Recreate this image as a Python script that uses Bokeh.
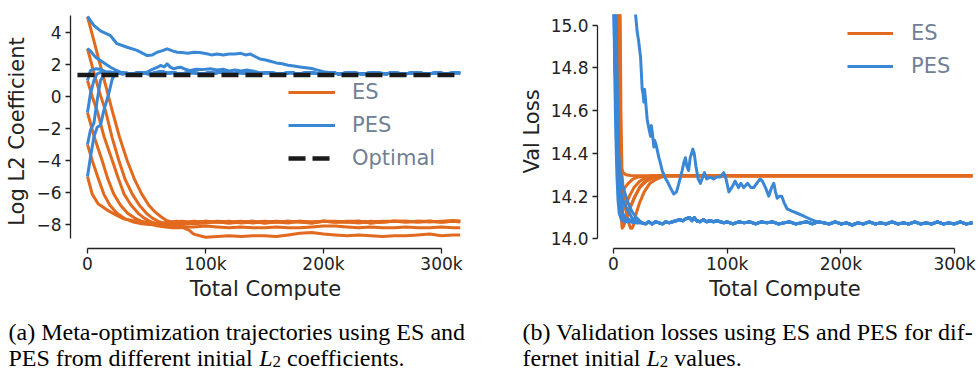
from bokeh.plotting import figure
from bokeh.models import Range1d, FixedTicker, Legend, LegendItem, Label, PrintfTickFormatter
from bokeh.layouts import row, column
from bokeh.embed import file_html
from bokeh.resources import INLINE

# ---------------- data (x in thousands of compute steps) ----------------
# Panel (a): log L2 coefficient trajectories
a_es_tail_x = [90, 100, 110, 120, 130, 140, 150, 160, 170, 180, 190, 200, 210, 220,
               230, 240, 250, 260, 270, 280, 290, 300, 310, 316]
a_es_tail_top1 = [-7.8, -7.85, -7.8, -7.85, -7.8, -7.9, -7.85, -7.8, -7.85, -7.8, -7.85, -7.8,
                  -7.85, -7.8, -7.8, -7.85, -7.8, -7.8, -7.85, -7.8, -7.85, -7.8, -7.75, -7.8]
a_es_tail_top2 = [-7.9, -7.8, -7.85, -7.9, -7.85, -7.8, -7.9, -7.85, -7.8, -7.85, -7.9, -7.8,
                  -7.85, -7.85, -7.8, -7.9, -7.85, -7.8, -7.8, -7.85, -7.8, -7.85, -7.8, -7.8]
a_es_tail_top3 = [-7.95, -7.9, -7.85, -7.8, -7.9, -7.85, -7.8, -7.85, -7.9, -7.8, -7.85, -7.8,
                  -7.8, -7.85, -7.9, -7.8, -7.85, -7.8, -7.85, -7.8, -7.8, -7.85, -7.8, -7.85]
a_es_tail_mid = [-8.15, -8.1, -8.15, -8.2, -8.15, -8.2, -8.2, -8.15, -8.2, -8.2, -8.15, -8.1,
                 -8.1, -8.15, -8.2, -8.15, -8.2, -8.2, -8.15, -8.2, -8.2, -8.15, -8.2, -8.2]
a_es_tail_low = [-8.6, -8.8, -8.75, -8.7, -8.75, -8.7, -8.7, -8.75, -8.65, -8.55, -8.5, -8.6,
                 -8.65, -8.7, -8.65, -8.7, -8.75, -8.7, -8.7, -8.65, -8.6, -8.7, -8.65, -8.65]

a_es_p5_x = [0, 5, 10, 15, 21, 27, 33.6, 40, 46, 52, 57, 62, 67, 72, 78, 85]
a_es_p5_y = [5.0, 3.6, 2.2, 0.8, -0.9, -2.5, -4.0, -5.2, -6.1, -6.8, -7.2, -7.5, -7.75, -7.85, -7.9, -7.85]
a_es_p3_x = [0, 5, 10, 15.3, 21, 26.6, 32, 38, 44, 50, 55, 60, 66, 72, 78, 85]
a_es_p3_y = [3.0, 1.6, 0.3, -0.9, -2.6, -4.0, -5.2, -6.1, -6.8, -7.3, -7.6, -7.8, -7.95, -8.0, -8.05, -7.95]
a_es_p1_x = [0, 4, 8.2, 14, 21, 26, 31, 37, 43, 48, 53, 58, 64, 70, 76, 81, 86]
a_es_p1_y = [1.0, 0.0, -0.9, -2.5, -4.0, -5.1, -6.1, -6.8, -7.3, -7.6, -7.8, -7.95, -8.0, -8.05, -8.1, -8.2, -8.35]
a_es_m1_x = [0, 6, 12.4, 17, 22.3, 28, 34, 40, 47, 54, 60, 66, 72, 78, 85]
a_es_m1_y = [-1.0, -2.6, -4.0, -5.1, -6.1, -6.8, -7.3, -7.6, -7.85, -8.0, -8.1, -8.15, -8.2, -8.2, -8.15]
a_es_m3_x = [0, 4, 9, 13.8, 19, 25, 32, 39, 46, 52, 58, 64, 70, 76, 82, 86]
a_es_m3_y = [-3.0, -4.0, -5.1, -6.1, -6.8, -7.3, -7.65, -7.85, -7.95, -8.0, -7.95, -7.9, -7.85, -7.8, -7.85, -7.9]
a_es_m5_x = [0, 4, 9, 16.7, 24, 30.8, 38, 44, 50, 56, 62, 68, 74, 80, 86]
a_es_m5_y = [-5.0, -6.1, -6.7, -7.1, -7.4, -7.65, -7.75, -7.8, -7.85, -7.9, -7.95, -7.9, -7.85, -7.8, -7.85]

a_pes_tail_x = [33, 38, 43, 48, 53, 58, 63, 68, 73, 78, 83, 88, 93, 98, 103, 108, 113, 118, 123,
                128, 133, 138, 143, 148, 153, 158, 163, 168, 173, 178, 183, 188, 193, 198, 203,
                208, 213, 218, 223, 228, 233, 238, 243, 248, 253, 258, 263, 268, 273, 278, 283,
                288, 293, 298, 303, 308, 313, 316]
a_pes_tail_y = [1.45, 1.4, 1.5, 1.45, 1.4, 1.5, 1.55, 1.45, 1.5, 1.4,
                1.45, 1.5, 1.45, 1.4, 1.5, 1.45, 1.55, 1.45, 1.4, 1.5,
                1.45, 1.5, 1.4, 1.45, 1.5, 1.45, 1.4, 1.45, 1.5, 1.4,
                1.45, 1.5, 1.45, 1.4, 1.45, 1.5, 1.4, 1.45, 1.5, 1.45,
                1.4, 1.45, 1.5, 1.45, 1.4, 1.5, 1.45, 1.4, 1.45, 1.5,
                1.45, 1.4, 1.45, 1.5, 1.4, 1.45, 1.5, 1.45]
a_pes_p5_x = [0, 5.4, 11, 19.5, 25, 33.6, 42, 50.6, 55, 59, 63, 67.5, 72, 76, 80, 85, 90, 95,
              101, 105, 110, 115, 120, 125, 130, 134, 138, 142, 146, 150, 155, 160, 165, 170,
              175, 180, 185, 190, 195, 200, 205, 210]
a_pes_p5_y = [5.0, 4.45, 4.1, 3.8, 3.3, 3.08, 2.88, 2.56, 2.6, 2.77, 2.85, 2.98, 2.85, 2.77,
              2.75, 2.7, 2.77, 2.75, 2.67, 2.6, 2.65, 2.6, 2.65, 2.65, 2.7, 2.6, 2.65, 2.5, 2.35,
              2.3, 2.2, 2.1, 2.05, 1.95, 1.9, 1.85, 1.8, 1.75, 1.65, 1.55, 1.5, 1.45]
a_pes_p3_x = [0, 3, 6.8, 11, 15, 19.5, 24, 28, 36, 45, 50.6, 55, 60, 62, 65, 67.5, 70, 73, 76,
              79, 83, 87, 92, 97, 104, 110, 115, 120, 125, 130, 135, 140, 145, 150]
a_pes_p3_y = [3.0, 2.8, 2.46, 2.25, 2.05, 1.83, 1.65, 1.52, 1.42, 1.42, 1.52, 1.7, 1.85, 1.94,
              1.85, 2.04, 1.85, 1.73, 1.8, 1.83, 1.7, 1.62, 1.7, 1.68, 1.73, 1.65, 1.7, 1.6,
              1.65, 1.6, 1.65, 1.6, 1.5, 1.45]
a_pes_p1_x = [0, 2.5, 6.8, 11, 15, 19, 23, 27, 30]
a_pes_p1_y = [1.0, 1.62, 1.73, 1.7, 1.55, 1.45, 1.5, 1.45, 1.4]
a_pes_m1_x = [0, 2.5, 5.4, 8.2, 11, 14, 18, 22, 26, 30]
a_pes_m1_y = [-1.0, 0.17, 1.0, 1.42, 1.5, 1.55, 1.45, 1.5, 1.45, 1.4]
a_pes_m3_x = [0, 2.5, 5.4, 8.2, 11, 15.3, 19, 23, 27, 30]
a_pes_m3_y = [-3.0, -2.1, -1.67, -0.25, 1.0, 1.52, 1.55, 1.45, 1.5, 1.45]
a_pes_m5_x = [0, 2.5, 5.4, 8.2, 11, 13.8, 18, 21, 22.5, 25, 28, 30]
a_pes_m5_y = [-5.0, -3.8, -2.54, -1.92, -1.8, -0.88, 0.17, 1.1, 1.3, 1.45, 1.5, 1.45]

a_optimal = 1.35
a_optimal_x = [-8.5, 316]

a_xticks = [0, 100, 200, 300]
a_xtick_labels = ["0", "100k", "200k", "300k"]
a_yticks = [-8, -6, -4, -2, 0, 2, 4]
a_ytick_labels = ["\u22128", "\u22126", "\u22124", "\u22122", "0", "2", "4"]

# Panel (b): validation loss
b_es_tail_x = [50, 100, 150, 200, 250, 300, 316]
b_es_tail_y = [14.295, 14.295, 14.295, 14.295, 14.295, 14.295, 14.295]
b_es_1_x = [0, 3.5, 4.5, 5.2, 6, 7, 8.5, 11, 15, 20]
b_es_1_y = [16.0, 15.3, 14.7, 14.45, 14.37, 14.33, 14.31, 14.30, 14.297, 14.295]
b_es_2_x = [0, 4, 5, 5.8, 6.5, 8, 10, 13, 17, 22]
b_es_2_y = [16.0, 15.2, 14.6, 14.3, 14.24, 14.22, 14.24, 14.26, 14.28, 14.29]
b_es_3_x = [0, 4.5, 5.5, 6.5, 7.5, 9, 11, 14, 18, 23, 28, 32]
b_es_3_y = [16.0, 15.2, 14.6, 14.25, 14.16, 14.14, 14.16, 14.2, 14.24, 14.27, 14.285, 14.295]
b_es_4_x = [0, 5, 6, 7, 8, 9.5, 12, 15, 19, 24, 30, 36]
b_es_4_y = [16.0, 15.2, 14.6, 14.2, 14.1, 14.08, 14.1, 14.15, 14.2, 14.25, 14.28, 14.295]
b_es_5_x = [0, 5, 6, 6.8, 7.6, 9, 11, 14, 18, 23, 29, 35, 42]
b_es_5_y = [16.0, 15.3, 14.5, 14.1, 14.05, 14.06, 14.1, 14.14, 14.19, 14.24, 14.27, 14.285, 14.295]
b_es_6_x = [0, 5.5, 6.5, 7.5, 9, 11, 13, 15, 16.4, 18, 20, 23, 27, 32, 38, 45]
b_es_6_y = [16.0, 15.3, 14.6, 14.3, 14.2, 14.13, 14.08, 14.05, 14.05, 14.07, 14.12, 14.17, 14.22,
            14.26, 14.28, 14.295]

b_pes_tail_x = [25, 28, 31, 34, 37, 40, 43, 46, 49, 52, 55, 58, 61, 64, 67, 69, 71, 73, 76, 79,
                82, 85, 88, 91, 94, 97] + list(range(100, 311, 5)) + [316]
b_pes_tail_y = [14.075, 14.07, 14.08, 14.07, 14.08, 14.075, 14.07, 14.08, 14.075, 14.08,
                14.085, 14.09, 14.085, 14.095, 14.1, 14.085, 14.1, 14.085, 14.08, 14.09,
                14.08, 14.085, 14.08, 14.085, 14.08, 14.075,
                14.08, 14.07, 14.08, 14.075, 14.08, 14.07, 14.08, 14.075, 14.08, 14.07,
                14.075, 14.08, 14.07, 14.075, 14.08, 14.07, 14.08, 14.075, 14.07, 14.08,
                14.07, 14.075, 14.065, 14.075, 14.07, 14.08, 14.07, 14.075, 14.07, 14.08,
                14.07, 14.075, 14.07, 14.08, 14.07, 14.075, 14.07, 14.08, 14.07, 14.075,
                14.07, 14.08, 14.07,
                14.075]
b_pes_slow_x = [16, 19.4, 20.8, 22, 23.8, 24.5, 25.2, 26, 26.7, 27.3, 28, 29.6, 31, 32.6, 33.3,
                34.5, 35.5, 36.3, 37.5, 39.9, 41, 42.8, 45, 47.2, 50, 53, 55.4, 57.5, 60.4, 62,
                63.3, 64.5, 66, 67.5, 69.8, 71, 72.5, 74.5, 76.5, 78.5, 80, 82, 85, 88, 90.7, 94,
                97, 99, 101.5, 104, 107, 110, 112, 114.6, 118, 121, 123.4, 126, 129, 131, 133.7,
                136.6, 139, 141, 142.5, 144, 146, 148, 150, 152.8, 157, 161.6, 166, 170, 174,
                179, 185]
b_pes_slow_y = [15.5, 15.05, 14.97, 14.93, 14.85, 14.78, 14.70, 14.68, 14.64, 14.70, 14.66,
                14.56, 14.52, 14.48, 14.53, 14.48, 14.43, 14.46, 14.44, 14.38, 14.36, 14.32,
                14.29, 14.27, 14.24, 14.21, 14.22, 14.26, 14.32, 14.36, 14.38, 14.34, 14.32,
                14.38, 14.42, 14.40, 14.34, 14.28, 14.26, 14.29, 14.31, 14.28, 14.29, 14.28,
                14.29, 14.29, 14.31, 14.28, 14.22, 14.24, 14.27, 14.24, 14.26, 14.24, 14.26,
                14.24, 14.24, 14.26, 14.28, 14.27, 14.24, 14.2, 14.24, 14.26, 14.22, 14.19,
                14.2, 14.2, 14.17, 14.14, 14.13, 14.12, 14.11, 14.10, 14.09, 14.08, 14.075]
b_pes_1_x = [0, 1, 2, 3, 4, 5, 7, 10, 14, 20]
b_pes_1_y = [15.3, 14.8, 14.5, 14.3, 14.18, 14.12, 14.09, 14.08, 14.08, 14.075]
b_pes_2_x = [0, 1.5, 3, 5, 7, 9, 12, 16, 20]
b_pes_2_y = [15.3, 14.8, 14.45, 14.25, 14.14, 14.1, 14.085, 14.08, 14.075]
b_pes_3_x = [0, 2, 4, 6.2, 9, 12, 16, 20.8]
b_pes_3_y = [15.1, 14.7, 14.42, 14.22, 14.17, 14.14, 14.1, 14.08]
b_pes_4_x = [2, 3, 4.5, 6, 8, 10, 14, 20]
b_pes_4_y = [15.2, 14.8, 14.4, 14.2, 14.12, 14.1, 14.09, 14.08]
b_pes_5_x = [1, 3, 5, 8, 12, 16, 20, 24]
b_pes_5_y = [15.2, 14.55, 14.35, 14.25, 14.18, 14.13, 14.1, 14.08]

b_xticks = [0, 100, 200, 300]
b_xtick_labels = ["0", "100k", "200k", "300k"]
b_yticks = [14.0, 14.2, 14.4, 14.6, 14.8, 15.0]

# captions: first line, then (text before L, text after the subscript)
caption_a_line1 = "(a) Meta-optimization trajectories using ES and"
caption_a_line2 = ("PES from different initial", "coefficients.")
caption_b_line1 = "(b) Validation losses using ES and PES for dif-"
caption_b_line2 = ("fernet initial", "values.")

# ---------------- styling ----------------
ORANGE = "#E26A1E"
BLUE = "#3A87D6"
INK = "#222222"
LEGEND_INK = "#718096"
FONT = "DejaVu Sans"
SERIF = "Liberation Serif"
CAP_SIZE = 24
K = 1000.0

# Times/Liberation Serif advance widths (per 1000 em) for measuring caption segments
TIMES_W = {"P": 556, "E": 611, "S": 556, " ": 250, "f": 333, "r": 333, "o": 500, "m": 778,
           "d": 500, "i": 278, "e": 444, "n": 500, "t": 278, "a": 444, "l": 278}
TIMES_ITALIC_L = 556


def text_width(s, size):
    return sum(TIMES_W[c] for c in s) * size / 1000.0


def series(hx, hy, tx=None, ty=None):
    assert len(hx) == len(hy), (hx, hy)
    xs = list(hx)
    ys = list(hy)
    if tx is not None:
        assert len(tx) == len(ty), (len(tx), len(ty))
        for x, y in zip(tx, ty):
            if x > hx[-1]:
                xs.append(x)
                ys.append(y)
    return [x * K for x in xs], ys


def style(p, xticks, xlabels, yticks, ylabels, ybounds, ylabel):
    p.grid.visible = False
    p.outline_line_color = None
    for ax in (p.xaxis[0], p.yaxis[0]):
        ax.axis_line_color = INK
        ax.axis_line_width = 1.3
        ax.major_tick_line_color = INK
        ax.major_tick_line_width = 1.3
        ax.major_tick_out = 5
        ax.major_tick_in = 0
        ax.minor_tick_line_color = None
        ax.major_label_text_font = FONT
        ax.major_label_text_font_size = "17px"
        ax.major_label_text_color = INK
        ax.axis_label_text_font = FONT
        ax.axis_label_text_font_size = "21px"
        ax.axis_label_text_font_style = "normal"
        ax.axis_label_text_color = INK
    xa = p.xaxis[0]
    xa.ticker = FixedTicker(ticks=[t * K for t in xticks])
    xa.major_label_overrides = {int(t * K): l for t, l in zip(xticks, xlabels)}
    xa.bounds = (xticks[0] * K, xticks[-1] * K)
    xa.axis_label = "Total Compute"
    xa.major_label_standoff = 0
    xa.axis_label_standoff = 0
    ya = p.yaxis[0]
    ya.ticker = FixedTicker(ticks=yticks)
    if ylabels is not None:
        ya.major_label_overrides = {t: l for t, l in zip(yticks, ylabels)}
    else:
        ya.formatter = PrintfTickFormatter(format="%.1f")
    ya.bounds = ybounds
    ya.axis_label = ylabel
    ya.major_label_standoff = 4
    ya.axis_label_standoff = 4


# ---------------- panel (a) ----------------
pa = figure(width=490, height=304, output_backend="svg", toolbar_location=None,
            x_range=Range1d(-14.4 * K, 316.1 * K), y_range=Range1d(-9.5, 5.125),
            min_border_left=70, min_border_right=30, min_border_top=14, min_border_bottom=56)
style(pa, a_xticks, a_xtick_labels, a_yticks, a_ytick_labels, (-8.9, 5.06), "Log L2 Coefficient")

a_es_lines = [
    series(a_es_p5_x, a_es_p5_y, a_es_tail_x, a_es_tail_top1),
    series(a_es_p3_x, a_es_p3_y, a_es_tail_x, a_es_tail_top2),
    series(a_es_p1_x, a_es_p1_y, a_es_tail_x, a_es_tail_low),
    series(a_es_m1_x, a_es_m1_y, a_es_tail_x, a_es_tail_mid),
    series(a_es_m3_x, a_es_m3_y, a_es_tail_x, a_es_tail_top3),
    series(a_es_m5_x, a_es_m5_y, a_es_tail_x, a_es_tail_top2),
]
a_pes_lines = [
    series(a_pes_p5_x, a_pes_p5_y, a_pes_tail_x, a_pes_tail_y),
    series(a_pes_p3_x, a_pes_p3_y, a_pes_tail_x, a_pes_tail_y),
    series(a_pes_p1_x, a_pes_p1_y, a_pes_tail_x, a_pes_tail_y),
    series(a_pes_m1_x, a_pes_m1_y, a_pes_tail_x, a_pes_tail_y),
    series(a_pes_m3_x, a_pes_m3_y, a_pes_tail_x, a_pes_tail_y),
    series(a_pes_m5_x, a_pes_m5_y, a_pes_tail_x, a_pes_tail_y),
]
a_es_r = [pa.line(x, y, line_color=ORANGE, line_width=3, line_join="round") for x, y in a_es_lines]
a_pes_r = [pa.line(x, y, line_color=BLUE, line_width=3, line_join="round") for x, y in a_pes_lines]
a_opt_r = pa.line([x * K for x in a_optimal_x], [a_optimal, a_optimal], line_color="#1a1a1a",
                  line_width=4.5, line_dash="17 7")

leg_a = Legend(items=[LegendItem(label="ES", renderers=[a_es_r[0]]),
                      LegendItem(label="PES", renderers=[a_pes_r[0]]),
                      LegendItem(label="Optimal", renderers=[a_opt_r])],
               location=(218, 78))

# ---------------- panel (b) ----------------
pb = figure(width=490, height=304, output_backend="svg", toolbar_location=None,
            x_range=Range1d(-14.08 * K, 315.8 * K), y_range=Range1d(13.955, 15.05),
            min_border_left=107, min_border_right=8, min_border_top=5, min_border_bottom=56)
style(pb, b_xticks, b_xtick_labels, b_yticks, None, (14.0, 15.0), "Val Loss")

b_es_lines = [series(x, y, b_es_tail_x, b_es_tail_y) for x, y in [
    (b_es_1_x, b_es_1_y), (b_es_2_x, b_es_2_y), (b_es_3_x, b_es_3_y),
    (b_es_4_x, b_es_4_y), (b_es_5_x, b_es_5_y), (b_es_6_x, b_es_6_y)]]
b_pes_lines = [series(x, y, b_pes_tail_x, b_pes_tail_y) for x, y in [
    (b_pes_slow_x, b_pes_slow_y), (b_pes_1_x, b_pes_1_y), (b_pes_2_x, b_pes_2_y),
    (b_pes_3_x, b_pes_3_y), (b_pes_4_x, b_pes_4_y), (b_pes_5_x, b_pes_5_y)]]
b_es_r = [pb.line(x, y, line_color=ORANGE, line_width=3, line_join="round") for x, y in b_es_lines]
b_pes_r = [pb.line(x, y, line_color=BLUE, line_width=3, line_join="round") for x, y in b_pes_lines]

leg_b = Legend(items=[LegendItem(label="ES", renderers=[b_es_r[0]]),
                      LegendItem(label="PES", renderers=[b_pes_r[0]])],
               location=(250, 170))

for lg, gw, so in [(leg_a, 47, 17), (leg_b, 46, 18)]:
    lg.glyph_width = gw
    lg.glyph_height = 24
    lg.label_height = 24
    lg.spacing = 9
    lg.label_standoff = so
    lg.padding = 0
    lg.margin = 0
    lg.border_line_color = None
    lg.background_fill_alpha = 0
    lg.label_text_font = FONT
    lg.label_text_font_size = "21px"
    lg.label_text_color = LEGEND_INK

pa.add_layout(leg_a, "center")
pb.add_layout(leg_b, "center")

# ---------------- captions ----------------
pc = figure(width=980, height=67, output_backend="svg", toolbar_location=None,
            x_range=Range1d(0, 980), y_range=Range1d(67, 0),
            x_axis_type=None, y_axis_type=None, min_border=0)
pc.outline_line_color = None
pc.grid.visible = False


def cap_label(x, y, text, size=CAP_SIZE, style_="normal"):
    pc.add_layout(Label(x=x, y=y, text=text, text_font=SERIF, text_font_size=f"{size}px",
                        text_font_style=style_, text_color="#000000",
                        text_baseline="alphabetic", text_align="left"))


Y1, Y2 = 27, 53
SUB_SIZE = 17
SPACE = TIMES_W[" "] * CAP_SIZE / 1000.0
for x0, line1, (before, after) in [(8, caption_a_line1, caption_a_line2),
                                   (522, caption_b_line1, caption_b_line2)]:
    cap_label(x0, Y1, line1)
    cap_label(x0, Y2, before)
    xl = x0 + text_width(before, CAP_SIZE) + SPACE
    cap_label(xl, Y2, "L", style_="italic")
    xs = xl + TIMES_ITALIC_L * CAP_SIZE / 1000.0
    cap_label(xs, Y2 + 4, "2", size=SUB_SIZE)
    cap_label(xs + 500 * SUB_SIZE / 1000.0 + SPACE, Y2, after)

layout = column(row(pa, pb, spacing=0), pc, spacing=0)
open("out.html", "w").write(file_html(layout, INLINE))
